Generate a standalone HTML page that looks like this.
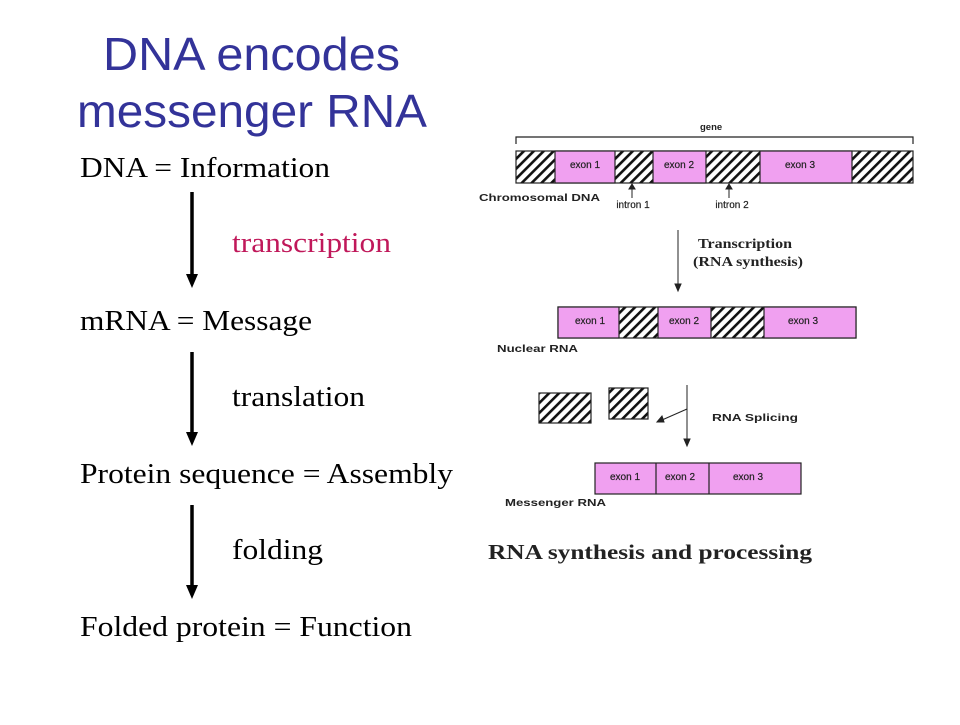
<!DOCTYPE html>
<html><head><meta charset="utf-8"><style>
body{margin:0;background:#fff;width:960px;height:720px;overflow:hidden}
</style></head><body>
<svg width="960" height="720" xmlns="http://www.w3.org/2000/svg">
<defs>
<pattern id="h" patternUnits="userSpaceOnUse" width="7" height="7" patternTransform="rotate(45)">
<rect width="7" height="7" fill="#fff"/><rect width="2.6" height="7" fill="#111"/></pattern>
</defs>
<g font-family="Liberation Sans, sans-serif" fill="#333399" font-size="46">
<text x="103" y="70" textLength="297" lengthAdjust="spacingAndGlyphs">DNA encodes</text>
<text x="77" y="127" textLength="350" lengthAdjust="spacingAndGlyphs">messenger RNA</text>
</g>
<g font-family="Liberation Serif, serif" font-size="28" fill="#000" lengthAdjust="spacingAndGlyphs">
<text x="80" y="177" textLength="250" lengthAdjust="spacingAndGlyphs">DNA = Information</text>
<text x="232" y="252" fill="#c0185a" textLength="159" lengthAdjust="spacingAndGlyphs">transcription</text>
<text x="80" y="330" textLength="232" lengthAdjust="spacingAndGlyphs">mRNA = Message</text>
<text x="232" y="406" textLength="133" lengthAdjust="spacingAndGlyphs">translation</text>
<text x="80" y="483" textLength="373" lengthAdjust="spacingAndGlyphs">Protein sequence = Assembly</text>
<text x="232" y="559" textLength="91" lengthAdjust="spacingAndGlyphs">folding</text>
<text x="80" y="636" textLength="332" lengthAdjust="spacingAndGlyphs">Folded protein = Function</text>
</g>
<g stroke="#000" stroke-width="3.5">
<line x1="192" y1="192" x2="192" y2="275"/>
<line x1="192" y1="352" x2="192" y2="433"/>
<line x1="192" y1="505" x2="192" y2="586"/>
</g>
<g fill="#000">
<path d="M186,274 L198,274 L192,288z"/>
<path d="M186,432 L198,432 L192,446z"/>
<path d="M186,585 L198,585 L192,599z"/>
</g>
<g stroke="#222" stroke-width="1.2" fill="none">
<path d="M516,144 V137 H913 V144"/>
</g>
<g font-family="Liberation Sans, sans-serif" font-size="9.5" font-weight="bold" fill="#222">
<text x="700" y="130">gene</text>
</g>
<g stroke="#222" stroke-width="1.2">
<rect x="516" y="151" width="397" height="32" fill="url(#h)"/>
<rect x="555" y="151" width="60" height="32" fill="#f0a0f0"/>
<rect x="653" y="151" width="53" height="32" fill="#f0a0f0"/>
<rect x="760" y="151" width="92" height="32" fill="#f0a0f0"/>
<rect x="558" y="307" width="298" height="31" fill="url(#h)"/>
<rect x="558" y="307" width="61" height="31" fill="#f0a0f0"/>
<rect x="658" y="307" width="53" height="31" fill="#f0a0f0"/>
<rect x="764" y="307" width="92" height="31" fill="#f0a0f0"/>
<rect x="539" y="393" width="52" height="30" fill="url(#h)"/>
<rect x="609" y="388" width="39" height="31" fill="url(#h)"/>
<rect x="595" y="463" width="206" height="31" fill="#f0a0f0"/>
<line x1="656" y1="463" x2="656" y2="494"/>
<line x1="709" y1="463" x2="709" y2="494"/>
</g>
<g stroke="#222" stroke-width="1">
<line x1="632" y1="198" x2="632" y2="188"/><path d="M629,189 L635,189 L632,184z" fill="#222"/>
<line x1="729" y1="198" x2="729" y2="188"/><path d="M726,189 L732,189 L729,184z" fill="#222"/>
<line x1="678" y1="230" x2="678" y2="285"/><path d="M675,284 L681,284 L678,291z" fill="#222"/>
<line x1="687" y1="385" x2="687" y2="440"/><path d="M684,439 L690,439 L687,446z" fill="#222"/>
<line x1="687" y1="409" x2="662" y2="420"/><path d="M657,422 L662,416 L664,422z" fill="#222"/>
</g>
<g font-family="Liberation Sans, sans-serif" font-size="10" fill="#222" text-anchor="middle" stroke="#222" stroke-width="0.2">
<text x="585" y="168">exon 1</text><text x="679" y="168">exon 2</text><text x="800" y="168">exon 3</text>
<text x="590" y="324">exon 1</text><text x="684" y="324">exon 2</text><text x="803" y="324">exon 3</text>
<text x="625" y="480">exon 1</text><text x="680" y="480">exon 2</text><text x="748" y="480">exon 3</text>
<text x="633" y="208">intron 1</text><text x="732" y="208">intron 2</text>
</g>
<g font-family="Liberation Sans, sans-serif" font-size="10.5" font-weight="bold" fill="#222">
<text x="479" y="201" textLength="121" lengthAdjust="spacingAndGlyphs">Chromosomal DNA</text>
<text x="497" y="352" textLength="81" lengthAdjust="spacingAndGlyphs">Nuclear RNA</text>
<text x="712" y="421" textLength="86" lengthAdjust="spacingAndGlyphs">RNA Splicing</text>
<text x="505" y="506" textLength="101" lengthAdjust="spacingAndGlyphs">Messenger RNA</text>
</g>
<g font-family="Liberation Serif, serif" font-weight="bold" fill="#222">
<text x="698" y="248" font-size="14" textLength="94" lengthAdjust="spacingAndGlyphs">Transcription</text>
<text x="693" y="266" font-size="14" textLength="110" lengthAdjust="spacingAndGlyphs">(RNA synthesis)</text>
<text x="488" y="559" font-size="21" textLength="324" lengthAdjust="spacingAndGlyphs">RNA synthesis and processing</text>
</g>
</svg>
</body></html>
